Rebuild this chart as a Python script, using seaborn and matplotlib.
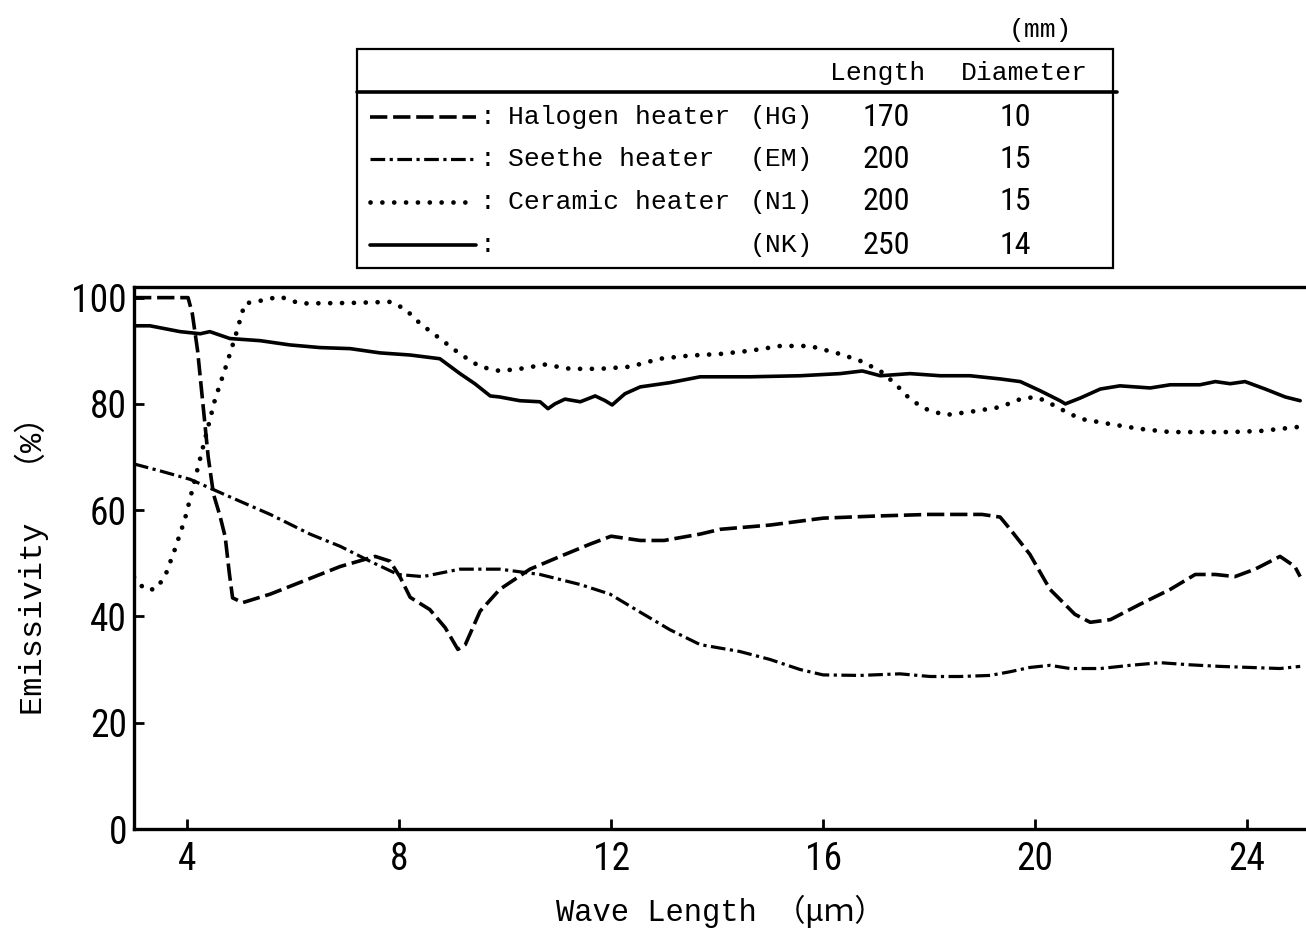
import matplotlib
matplotlib.use('Agg')

import matplotlib.pyplot as plt
from matplotlib import font_manager as fm
import seaborn as sns
import numpy as np

# ---- data (wave length in um, emissivity in %) ----
hg_x = [3.0, 3.5, 4.02, 4.1, 4.2, 4.3, 4.4, 4.5, 4.62, 4.72, 4.8, 4.86, 5.05,
        5.57, 6.13, 6.89, 7.55, 7.83, 8.02, 8.21, 8.58, 8.87, 9.11, 9.25, 9.53, 9.9,
        10.47, 11.04, 11.6, 12.0, 12.55, 13.0, 13.68, 14.06, 15.0, 16.0, 17.0, 18.0,
        19.0, 19.34, 19.53, 19.9, 20.28, 20.75, 21.04, 21.42, 21.98, 22.55, 23.02,
        23.4, 23.77, 24.15, 24.62, 24.9, 25.0]
hg_y = [100, 100, 100, 97, 90, 80, 70, 63, 59, 55, 48, 43.5, 42.6,
        44.2, 46.4, 49.4, 51.3, 50.4, 47.4, 43.6, 41.3, 37.9, 33.8, 34.7, 41, 45.1,
        48.9, 51.3, 53.6, 55.1, 54.3, 54.3, 55.5, 56.4, 57.2, 58.5, 58.9, 59.2,
        59.2, 58.7, 56.4, 51.7, 45.1, 40.4, 38.9, 39.4, 42.3, 45.1, 47.9,
        47.9, 47.5, 48.9, 51.3, 49.4, 47.5]

em_x = [3.0, 3.49, 4.06, 4.81, 5.57, 6.32, 6.89, 7.45, 7.98, 8.45, 9.15, 9.9, 10.66,
        11.42, 11.98, 12.55, 13.11, 13.68, 14.43, 15.0, 15.57, 16.0, 16.7, 17.45,
        18.02, 18.58, 19.15, 19.53, 19.9, 20.28, 20.66, 21.23, 21.79, 22.36, 22.92,
        23.49, 24.06, 24.62, 25.0]
em_y = [68.7, 67.4, 65.8, 62.5, 59.2, 55.5, 53.2, 50.4, 47.9, 47.5, 48.9, 48.9, 47.9,
        46.0, 44.2, 40.8, 37.5, 34.7, 33.4, 31.9, 30.0, 29.0, 28.9, 29.2,
        28.7, 28.7, 28.9, 29.6, 30.4, 30.8, 30.2, 30.2, 30.8, 31.3, 30.9,
        30.6, 30.4, 30.2, 30.6]

n1_x = [3.0, 3.2, 3.4, 3.58, 3.77, 3.96, 4.15, 4.34, 4.53, 4.72, 4.9, 5.09, 5.38,
        5.75, 6.13, 7.08, 7.83, 8.11, 8.4, 8.77, 9.15, 9.53, 9.9, 10.28, 10.75,
        11.23, 11.79, 12.36, 12.92, 13.49, 14.06, 14.62, 15.19, 15.75, 16.32, 16.7,
        17.08, 17.36, 17.64, 17.92, 18.3, 18.77, 19.34, 19.72, 20.0, 20.19, 20.47,
        20.85, 21.42, 21.98, 22.55, 23.11, 23.68, 24.25, 24.81, 25.0]
n1_y = [47.4, 45.1, 45.1, 47.4, 52.6, 58.3, 65.8, 73.4, 80.9, 86.6, 92.3, 98.9, 99.4,
        100.2, 98.9, 99.0, 99.2, 97.9, 95.1, 92.3, 89.4, 87.0, 86.2, 86.6, 87.4,
        86.6, 86.6, 87.0, 88.5, 89.1, 89.4, 90.0, 90.9, 90.9, 89.4, 88.1,
        86.2, 83.8, 80.9, 79.1, 77.9, 78.5, 79.4, 80.9, 81.3, 80.6, 79.1,
        77.2, 76.2, 75.3, 74.7, 74.7, 74.7, 74.9, 75.5, 75.7]

nk_x = [3.0, 3.3, 3.87, 4.25, 4.43, 4.81, 5.38, 5.94, 6.51, 7.08, 7.64, 8.21, 8.77,
        9.15, 9.43, 9.72, 9.9, 10.28, 10.66, 10.81, 10.94, 11.13, 11.42, 11.7, 11.89,
        12.02, 12.26, 12.55, 13.11, 13.68, 14.62, 15.57, 16.32, 16.74, 17.08, 17.64,
        18.21, 18.77, 19.34, 19.72, 20.09, 20.47, 20.57, 20.85, 21.23, 21.6, 22.17,
        22.55, 23.11, 23.4, 23.68, 23.96, 24.34, 24.72, 25.0]
nk_y = [94.7, 94.7, 93.6, 93.2, 93.6, 92.3, 91.9, 91.1, 90.6, 90.4, 89.6, 89.2, 88.5,
        85.7, 83.8, 81.5, 81.3, 80.6, 80.4, 79.1, 80.0, 80.9, 80.4, 81.5, 80.6,
        79.8, 81.9, 83.2, 84.0, 85.1, 85.1, 85.3, 85.7, 86.2, 85.3, 85.7,
        85.3, 85.3, 84.7, 84.2, 82.5, 80.6, 80.0, 81.1, 82.8, 83.4, 83.0,
        83.6, 83.6, 84.2, 83.8, 84.2, 82.8, 81.3, 80.6]

# legend table contents
names = ['Halogen heater', 'Seethe heater', 'Ceramic heater', '']
codes = ['(HG)', '(EM)', '(N1)', '(NK)']
lengths = ['170', '200', '200', '250']
diameters = ['10', '15', '15', '14']

x_ticks = [4, 8, 12, 16, 20, 24]
y_ticks = [0, 20, 40, 60, 80, 100]

MONO = ['Liberation Mono', 'Noto Sans CJK JP', 'DejaVu Sans']


def narrow_font():
    """Pick a condensed sans face for the numbers if one is installed."""
    entries = fm.fontManager.ttflist
    names_avail = sorted({f.name for f in entries})
    for pref in ['Liberation Sans Narrow', 'Roboto Condensed', 'Noto Sans Condensed',
                 'Open Sans Condensed', 'DejaVu Sans Condensed']:
        if pref in names_avail:
            return fm.FontProperties(family=pref), 1.0
    for f in entries:
        if f.name in ('DejaVu Sans', 'Noto Sans', 'Open Sans', 'Roboto') and \
                str(f.stretch) in ('condensed', 'semi-condensed', '300', '400'):
            return fm.FontProperties(fname=f.fname), 1.0
    cond = [n for n in names_avail if 'Narrow' in n or 'Condensed' in n]
    if cond:
        return fm.FontProperties(family=cond[0]), 1.0
    return fm.FontProperties(family='Liberation Sans'), 0.85


NARROW, NSCALE = narrow_font()

STYLES = [
    dict(linestyle=(0, (4.8, 1.6)), linewidth=2.6),
    dict(linestyle=(0, (4.6, 1.4, 1.0, 1.4)), linewidth=2.3),
    dict(linestyle=(0, (0.01, 2.5)), linewidth=3.4, dash_capstyle='round'),
    dict(linestyle='-', linewidth=2.6),
]

sns.set_theme(style='white', rc={'text.color': 'black', 'axes.labelcolor': 'black',
                                 'xtick.color': 'black', 'ytick.color': 'black'})
plt.rcParams['font.family'] = MONO

fig = plt.figure(figsize=(13.06, 9.36), dpi=100)
ax = fig.add_axes([134 / 1306, 1 - 829 / 936, 1172 / 1306, 542 / 936])

for (xs, ys), st in zip([(hg_x, hg_y), (em_x, em_y), (n1_x, n1_y), (nk_x, nk_y)], STYLES):
    sns.lineplot(x=xs, y=ys, ax=ax, color='black', **st)

ax.set_xlim(3, 25.11)
ax.set_ylim(0, 102)
ax.set_xticks(x_ticks)
ax.set_yticks(y_ticks)
ax.tick_params(direction='in', length=7, width=2, color='black', bottom=True, left=True)
ax.tick_params(axis='x', pad=9)
ax.tick_params(axis='y', pad=5)
for lab in ax.get_xticklabels() + ax.get_yticklabels():
    lab.set_fontproperties(NARROW)
    lab.set_fontsize(27 * NSCALE)
for side in ['left', 'bottom', 'top']:
    ax.spines[side].set_linewidth(2.4)
    ax.spines[side].set_color('black')
ax.spines['right'].set_visible(False)

ax.set_xlabel('Wave Length （μｍ）', fontsize=22, labelpad=12)
ax.set_ylabel('Emissivity  （%）', fontsize=23, labelpad=16)

# ---- legend table drawn in pixel coordinates ----
lg = fig.add_axes([0, 0, 1, 1], zorder=5)
lg.set_xlim(0, 1306)
lg.set_ylim(936, 0)
lg.axis('off')
lg.add_patch(plt.Rectangle((357, 49), 756, 219, fill=False, lw=1.6, ec='black'))
lg.plot([357, 1117], [92, 92], color='black', lw=2.6)
lg.text(1040, 30, '(mm)', ha='center', va='center', fontsize=19)
lg.text(878, 73, 'Length', ha='center', va='center', fontsize=19)
lg.text(1024, 73, 'Diameter', ha='center', va='center', fontsize=19)

row_y = [117, 159, 202, 245]
for y, st, nm, cd, ln, dm in zip(row_y, STYLES, names, codes, lengths, diameters):
    lg.plot([370, 476], [y, y], color='black', **st)
    lg.text(480, y, ':', ha='left', va='center', fontsize=19)
    lg.text(508, y, nm, ha='left', va='center', fontsize=19)
    lg.text(813, y, cd, ha='right', va='center', fontsize=19)
    lg.text(886, y, ln, ha='center', va='center', fontproperties=NARROW,
            fontsize=23 * NSCALE)
    lg.text(1015, y, dm, ha='center', va='center', fontproperties=NARROW,
            fontsize=23 * NSCALE)

fig.savefig('out.png', dpi=100, facecolor='white')
plt.close(fig)
